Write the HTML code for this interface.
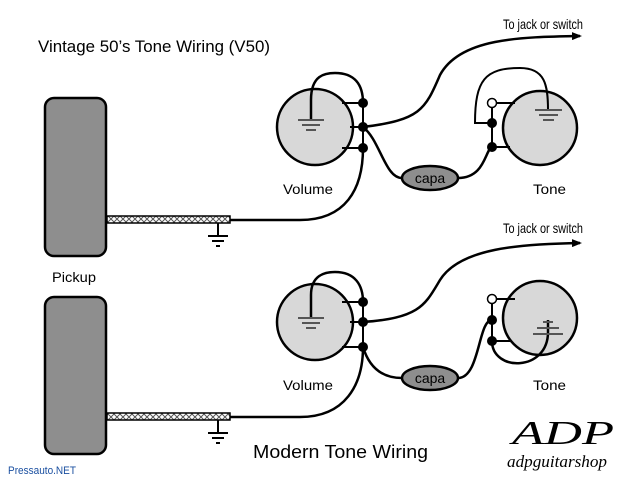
<!DOCTYPE html>
<html><head><meta charset="utf-8"><style>
html,body{margin:0;padding:0;background:#fff;}
svg{display:block;}
</style></head><body>
<svg width="640" height="480" viewBox="0 0 640 480" xmlns="http://www.w3.org/2000/svg" font-family="Liberation Sans, sans-serif">
<defs>
<pattern id="hx" width="6" height="6" patternUnits="userSpaceOnUse">
<rect width="6" height="6" fill="#fff"/>
<path d="M0 0L6 6M6 0L0 6" stroke="#555" stroke-width="1"/>
</pattern>
<marker id="ar" markerWidth="10" markerHeight="8" refX="8" refY="4" orient="auto" markerUnits="userSpaceOnUse">
<path d="M0 0L10 4L0 8Z" fill="#000"/>
</marker>
</defs>

<text x="38" y="52" font-size="17" textLength="232" lengthAdjust="spacingAndGlyphs">Vintage 50’s Tone Wiring (V50)</text>
<text x="503" y="29" font-size="14" textLength="80" lengthAdjust="spacingAndGlyphs">To jack or switch</text>
<text x="503" y="233" font-size="14" textLength="80" lengthAdjust="spacingAndGlyphs">To jack or switch</text>
<text x="52" y="282" font-size="14" textLength="44" lengthAdjust="spacingAndGlyphs">Pickup</text>
<text x="283" y="194" font-size="14" textLength="50" lengthAdjust="spacingAndGlyphs">Volume</text>
<text x="533" y="194" font-size="14" textLength="33" lengthAdjust="spacingAndGlyphs">Tone</text>
<text x="283" y="390" font-size="14" textLength="50" lengthAdjust="spacingAndGlyphs">Volume</text>
<text x="533" y="390" font-size="14" textLength="33" lengthAdjust="spacingAndGlyphs">Tone</text>
<text x="253" y="458" font-size="18" textLength="175" lengthAdjust="spacingAndGlyphs">Modern Tone Wiring</text>
<text x="8" y="474" font-size="11" fill="#1a4fa0" textLength="68" lengthAdjust="spacingAndGlyphs">Pressauto.NET</text>
<text x="512" y="444" font-size="34" style="font-family:'Liberation Serif',serif;font-style:italic" textLength="102" lengthAdjust="spacingAndGlyphs">ADP</text>
<text x="507" y="467" font-size="17" style="font-family:'Liberation Serif',serif;font-style:italic" textLength="100" lengthAdjust="spacingAndGlyphs">adpguitarshop</text>

<g stroke="#000" stroke-width="2.5" fill="none">
<rect x="45" y="98" width="61" height="158" rx="9" fill="#8e8e8e"/>
<rect x="45" y="297" width="61" height="157" rx="9" fill="#8e8e8e"/>
<rect x="107" y="216" width="123" height="7" fill="url(#hx)" stroke-width="1.5"/>
<rect x="107" y="413" width="123" height="7" fill="url(#hx)" stroke-width="1.5"/>
<path d="M230 220 L300 220 C345 220 363 190 363 148"/>
<path d="M230 417 L300 417 C345 417 363 385 363 347"/>
<path d="M218 223V236M208 236H228M212 241H224M216 246H220" stroke-width="2"/>
<path d="M218 420V433M208 433H228M212 438H224M216 443H220" stroke-width="2"/>

<circle cx="315" cy="127" r="38" fill="#d8d8d8"/>
<path d="M342 103H363M350 127H363M342 148H363M363 103V148" stroke-width="2"/>
<path d="M311 120V100 C311 75 325 73 335 73 C355 73 363 85 363 103"/>
<path d="M298 120H324M302 125H320M306 130H316" stroke="#555" stroke-width="2"/>
<circle cx="540" cy="128" r="37" fill="#d8d8d8"/>
<path d="M492 103V147M492 103H515M492 123H475 C475 80 485 68 520 68 C545 68 548 85 548 110M492 147H510" stroke-width="2"/>
<path d="M535 110H562M539 115H558M543 120H554" stroke="#555" stroke-width="2"/>
<path d="M363 127 C420 120 425 110 440 75 C460 38 520 37 580 36" marker-end="url(#ar)"/>
<path d="M363 127 C380 140 385 178 402 178"/>
<path d="M458 178 C485 178 485 150 492 147"/>
<ellipse cx="430" cy="178" rx="28" ry="12" fill="#8e8e8e"/>

<circle cx="315" cy="322" r="38" fill="#d8d8d8"/>
<path d="M342 302H363M350 322H363M342 347H363M363 302V347" stroke-width="2"/>
<path d="M311 318V295 C311 275 325 272 335 272 C355 272 363 285 363 302"/>
<path d="M298 318H324M302 323H320M306 328H316" stroke="#555" stroke-width="2"/>
<circle cx="540" cy="318" r="37" fill="#d8d8d8"/>
<path d="M492 299V341M492 299H515M492 341H510" stroke-width="2"/>
<path d="M492 341 C492 372 548 372 548 332V320"/>
<path d="M533 334H563M537 328H559M543 322H553" stroke="#555" stroke-width="2"/>
<path d="M363 322 C420 318 425 305 440 280 C460 248 520 244 580 243" marker-end="url(#ar)"/>
<path d="M363 347 C370 370 385 378 402 378"/>
<path d="M458 378 C480 378 478 320 492 320"/>
<ellipse cx="430" cy="378" rx="28" ry="12" fill="#8e8e8e"/>
</g>

<g font-size="14" text-anchor="middle" fill="#000">
<text x="430" y="183">capa</text>
<text x="430" y="383">capa</text>
</g>

<g fill="#000">
<circle cx="363" cy="103" r="5"/><circle cx="363" cy="127" r="5"/><circle cx="363" cy="148" r="5"/>
<circle cx="492" cy="123" r="5"/><circle cx="492" cy="147" r="5"/>
<circle cx="363" cy="302" r="5"/><circle cx="363" cy="322" r="5"/><circle cx="363" cy="347" r="5"/>
<circle cx="492" cy="320" r="5"/><circle cx="492" cy="341" r="5"/>
</g>
<circle cx="492" cy="103" r="4.5" fill="#fff" stroke="#000" stroke-width="1.5"/>
<circle cx="492" cy="299" r="4.5" fill="#fff" stroke="#000" stroke-width="1.5"/>
</svg>
</body></html>
